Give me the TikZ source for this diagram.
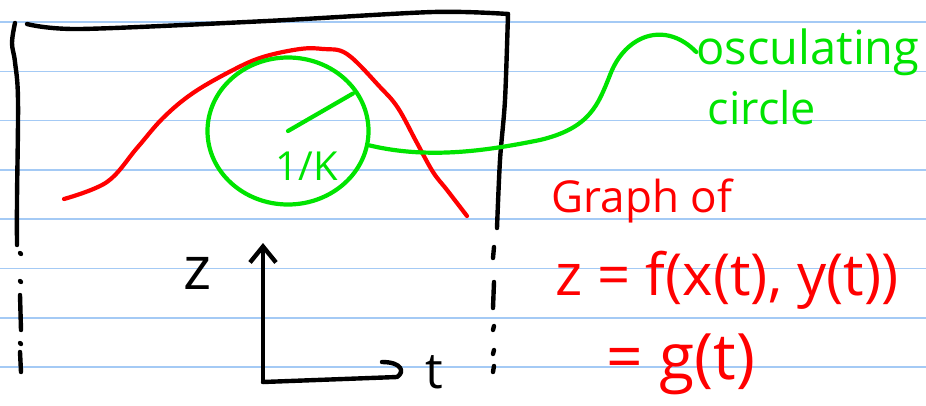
\documentclass[tikz,border=0pt]{standalone}
\usepackage{fontspec}
\setmainfont{Open Sans}
\usetikzlibrary{arrows.meta,calc,shapes.geometric}

\definecolor{penred}{RGB}{255,0,0}
\definecolor{pengreen}{RGB}{0,228,0}
\definecolor{ruleblue}{RGB}{164,202,245}

\begin{document}
\begin{tikzpicture}[
  x=1pt,y=-1pt,
  line cap=round,line join=round,
  ruling/.style={draw=ruleblue,line width=1.6pt},
  frame/.style={draw=black,line width=4.4pt},
  redpen/.style={draw=penred,line width=4.2pt},
  greenpen/.style={draw=pengreen,line width=4.2pt},
  redtext/.style={text=penred,inner sep=0pt},
  greentext/.style={text=pengreen,inner sep=0pt},
  inktext/.style={text=black,inner sep=0pt},
  pen/.style={font=\fontsize{#1}{#1}\selectfont},
]
\useasboundingbox[fill=white] (0,0) rectangle (926,405);

%% ---------------------------------------------------------------- paper
\foreach \ry in {0,...,7}{
  \draw[ruling] (0,22+49.3*\ry) -- (926,22+49.3*\ry);
}

%% ---------------------------------------------------------------- frame
\draw[frame] plot[smooth,tension=0.6] coordinates
  {(15,23) (12,43) (15,62) (18,100) (17,200) (17,245)};
\draw[frame] plot[smooth,tension=0.5] coordinates
  {(27,24) (80,29) (267,21) (433,12) (508,14)};
\draw[frame] plot[smooth,tension=0.5] coordinates
  {(508,14) (505,100) (500,160) (497,228)};
\foreach \ya/\yb in {253/254,281/282,295/330,343/344,352/372}{
  \draw[frame] (20,\ya) -- (21,\yb);
}
\foreach \ya/\yb in {247/258,282/308,326/330,350/354,366/372}{
  \draw[frame] (494,\ya) -- (493,\yb);
}

%% ---------------------------------------------------------------- graph
\draw[redpen] plot[smooth,tension=0.6] coordinates
  {(64,199) (107,182) (137,148) (163,118) (193,93) (233,70) (263,57)
   (300,49) (323,49) (347,54) (380,87) (398,108) (417,143) (433,172)
   (447,190) (467,216)};

%% ------------------------------------------------------ osculating circle
\node[ellipse,greenpen,minimum width=161,minimum height=147,inner sep=0pt]
  (osc) at (288,131) {};
\draw[greenpen] (osc.center) -- ($(osc.center)!0.93!(osc.30)$);
\node[greentext,pen=40] (kinv) at (307,166) {1/K};

\node[greentext,pen=47] (osc1) at (808,52) {osculating};
\node[greentext,pen=45] (osc2) at (762,108) {circle};
\draw[greenpen] (osc.-10) .. controls (430,160) and (490,150) .. (540,140)
  .. controls (590,128) and (598,105) .. (610,75)
  .. controls (625,35) and (665,20) .. (osc1.west);

%% ---------------------------------------------------------------- formula
\node[redtext,pen=44] (graph) at (642,201) {Graph of};
\node[redtext,pen=58] (zeq) at (727,280) {z = f(x(t), y(t))};
\node[redtext,pen=64] (geq) at (681,364) {= g(t)};

%% ---------------------------------------------------------------- axes
\coordinate (O) at (263,382);
\coordinate (ztip) at (263,243);
\coordinate (tend) at (397,377);
\draw[frame,-{Straight Barb[length=16pt,width=26pt]}] (O) -- (ztip);
\draw[frame] (O) -- (tend) .. controls (405,372) and (402,362) .. (382,362);
\node[inktext,pen=60] (zlab) at (198,273) {z};
\node[inktext,pen=50] (tlab) at (434,372) {t};

\end{tikzpicture}
\end{document}
